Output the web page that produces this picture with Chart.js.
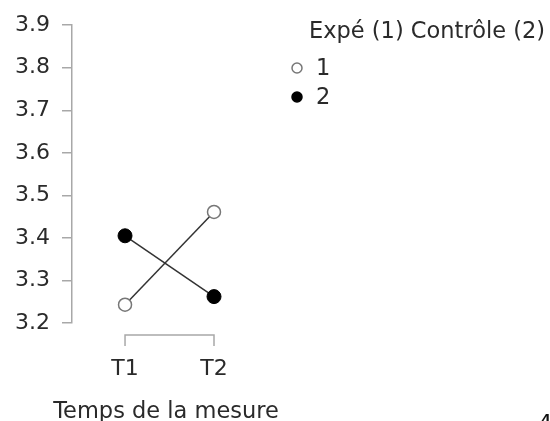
<!DOCTYPE html>
<html>
<head>
<meta charset="utf-8">
<script src="https://cdn.jsdelivr.net/npm/chart.js@4"></script>
<style>
  html, body { margin: 0; padding: 0; background: #fff; }
  #wrap { width: 550px; height: 421px; }
</style>
</head>
<body>
<div id="wrap"><canvas id="graphe"></canvas></div>
<script>
// valeurs
const temps = ['T1', 'T2'];
const expe = [3.243, 3.461];
const controle = [3.405, 3.262];
const yTicks = [3.2, 3.3, 3.4, 3.5, 3.6, 3.7, 3.8, 3.9];
const groupes = ['1', '2'];
const titreLegende = 'Expé (1) Contrôle (2)';
const titreX = 'Temps de la mesure';

const police = '"DejaVu Sans", sans-serif';
const gris = '#a8a8a8';
const texte = '#2a2a2a';

const pts = vals => vals.map((v, i) => ({ x: i + 1, y: v }));

// crochets des axes (style "despine"), titre de l'axe x et légende
const decor = {
    id: 'decor',
    afterDraw(chart) {
        const c = chart.ctx;
        const xs = chart.scales.x;
        const x0 = xs.getPixelForValue(1), x1 = xs.getPixelForValue(temps.length);
        const yb = chart.chartArea.bottom + 12;
        c.save();
        c.strokeStyle = gris;
        c.lineWidth = 1.5;
        c.beginPath();
        c.moveTo(x0, yb + 11); c.lineTo(x0, yb); c.lineTo(x1, yb); c.lineTo(x1, yb + 11);
        c.stroke();

        // titre de l'axe x, centré comme sur l'original
        c.fillStyle = texte;
        c.font = '22.5px ' + police;
        c.textAlign = 'center';
        c.textBaseline = 'alphabetic';
        c.fillText(titreX, 166, 418);

        // légende
        c.textAlign = 'left';
        c.fillText(titreLegende, 309, 38);
        chart.data.datasets.forEach((ds, i) => {
            const y = 68 + i * 29;
            c.beginPath();
            c.arc(297, y, 5, 0, Math.PI * 2);
            c.fillStyle = ds.pointBackgroundColor;
            c.fill();
            c.strokeStyle = ds.pointBorderColor;
            c.lineWidth = 1.5;
            c.stroke();
            c.fillStyle = texte;
            c.textBaseline = 'middle';
            c.fillText(groupes[i], 316, y + 1);
        });
        // bout de numéro de page coupé en bas à droite
        c.textBaseline = 'top';
        c.fillStyle = '#111';
        c.fillText('4', 538, 414);
        c.restore();
    }
};

new Chart(document.getElementById('graphe'), {
    type: 'line',
    data: {
        datasets: [{
            label: groupes[0],
            data: pts(expe),
            borderColor: '#333',
            borderWidth: 1.5,
            pointRadius: 6.5,
            pointBackgroundColor: '#fff',
            pointBorderColor: '#777',
            pointBorderWidth: 1.5
        }, {
            label: groupes[1],
            data: pts(controle),
            borderColor: '#333',
            borderWidth: 1.5,
            pointRadius: 7,
            pointBackgroundColor: '#000',
            pointBorderColor: '#000',
            pointBorderWidth: 1
        }]
    },
    options: {
        responsive: true,
        maintainAspectRatio: false,
        animation: false,
        layout: { padding: { top: 25, right: 290, bottom: 0, left: 0 } },
        plugins: { legend: { display: false }, tooltip: { enabled: false } },
        scales: {
            x: {
                type: 'linear',
                min: 0.404,
                max: 2.517,
                afterBuildTicks: s => { s.ticks = temps.map((t, i) => ({ value: i + 1 })); },
                afterFit: s => { s.height = 98; },
                grid: { display: false, drawTicks: false },
                border: { display: false },
                ticks: {
                    padding: 33,
                    color: texte,
                    font: { family: police, size: 22 },
                    callback: v => temps[v - 1]
                }
            },
            y: {
                min: 3.2,
                max: 3.9,
                afterBuildTicks: s => { s.ticks = yTicks.map(v => ({ value: v })); },
                afterFit: s => { s.width = 72; },
                grid: { drawOnChartArea: false, tickLength: 10, color: gris, lineWidth: 1.5 },
                border: { display: true, color: gris, width: 1.5 },
                ticks: {
                    padding: 12,
                    color: texte,
                    font: { family: police, size: 22 },
                    callback: v => v.toFixed(1)
                }
            }
        }
    },
    plugins: [decor]
});
</script>
</body>
</html>
